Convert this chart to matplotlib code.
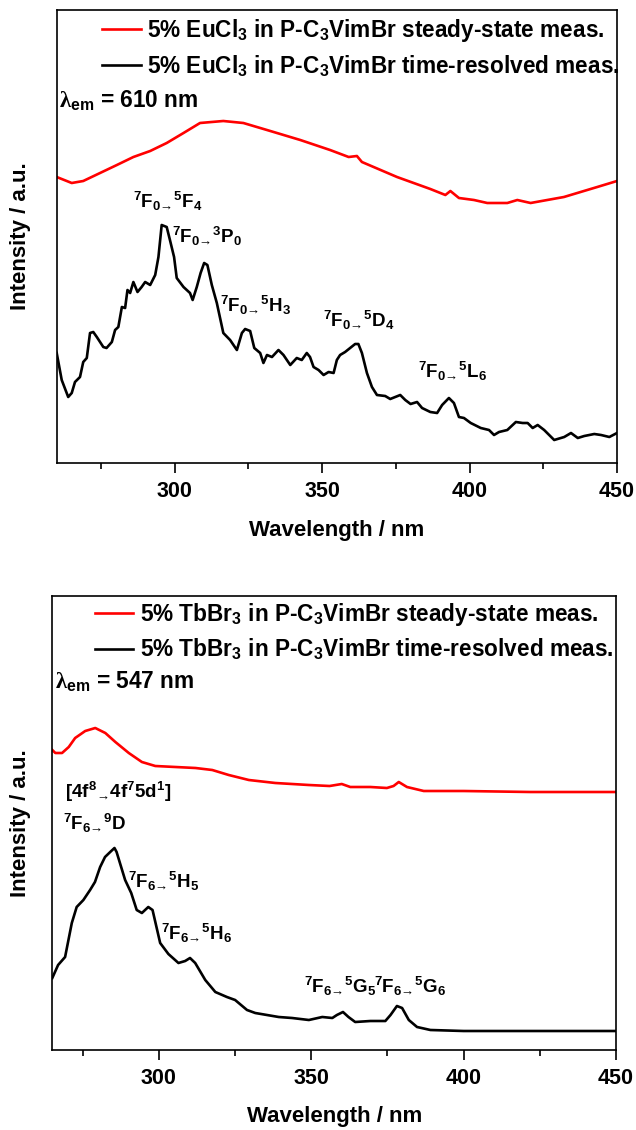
import matplotlib
matplotlib.use("Agg")
import matplotlib.pyplot as plt
from matplotlib.lines import Line2D

plt.rcParams['font.family'] = ['Liberation Sans', 'DejaVu Sans']
plt.rcParams['font.weight'] = 'bold'
plt.rcParams['mathtext.fontset'] = 'custom'
plt.rcParams['mathtext.rm'] = 'Liberation Sans:bold'
plt.rcParams['mathtext.bf'] = 'Liberation Sans:bold'
plt.rcParams['mathtext.it'] = 'Liberation Sans:bold'
plt.rcParams['mathtext.sf'] = 'Liberation Sans'
plt.rcParams['mathtext.tt'] = 'Liberation Serif'
plt.rcParams['mathtext.default'] = 'rm'

# ---------------- data: Eu panel ----------------
eu_red_nm = [260, 265.1, 269.0, 274.7, 280.4, 286.0, 291.7, 297.3, 303.0, 308.6,
             316.5, 323.3, 331.3, 342.6, 352.7, 359.0, 361.8, 363.5, 375.4, 386.7,
             391.8, 393.5, 396.4, 401.5, 406.0, 412.8, 416.2, 420.7, 432.0, 443.3, 450]
eu_red_int = [286, 280, 282, 290, 298, 306, 312, 320, 330, 340,
              342, 340, 333, 323, 313, 306, 307, 301, 286, 274,
              268, 272, 265, 263, 260, 260, 263, 260, 266, 276, 282]

eu_black_nm = [260, 261.7, 263.9, 265.1, 266.2, 267.9, 269.0, 270.2, 271.3, 272.4,
               273.6, 275.8, 276.9, 278.7, 279.8, 280.9, 282.1, 283.2, 284.0, 284.9,
               286.0, 287.4, 288.8, 290.0, 291.7, 293.4, 294.5, 295.6, 297.3, 298.4,
               299.8, 300.7, 303.0, 305.2, 306.1, 307.5, 308.8, 310.0, 311.1, 312.6,
               314.3, 316.5, 318.8, 321.1, 322.8, 323.9, 325.6, 327.0, 329.0, 330.1,
               331.3, 333.0, 335.2, 336.9, 339.2, 341.4, 343.1, 344.8, 345.9, 347.1,
               348.8, 350.5, 352.2, 353.9, 355.0, 356.1, 357.8, 359.5, 361.2, 362.3,
               363.5, 365.2, 366.9, 368.6, 371.4, 373.1, 376.5, 378.2, 380.0, 382.2,
               383.9, 386.7, 389.0, 390.7, 393.0, 394.7, 396.4, 398.1, 400.4, 403.8,
               406.6, 408.3, 410.0, 412.8, 415.7, 418.0, 419.7, 421.4, 423.1, 425.3,
               428.7, 432.1, 434.4, 436.7, 438.9, 442.3, 444.6, 447.4, 450]
eu_black_int = [110, 83, 66, 70, 81, 86, 101, 105, 130, 131,
                126, 116, 115, 121, 133, 136, 156, 155, 173, 170,
                181, 171, 176, 181, 178, 188, 206, 238, 236, 223,
                206, 185, 176, 170, 163, 176, 190, 200, 198, 178,
                160, 130, 123, 113, 130, 134, 132, 115, 110, 100,
                108, 106, 113, 108, 98, 105, 103, 110, 106, 96,
                93, 88, 91, 90, 103, 108, 111, 115, 119, 119,
                110, 90, 76, 68, 67, 64, 68, 63, 59, 61,
                55, 51, 50, 58, 65, 60, 46, 45, 40, 35,
                33, 28, 31, 33, 41, 40, 40, 35, 38, 33,
                23, 26, 30, 25, 27, 29, 28, 26, 30]

# ---------------- data: Tb panel ----------------
tb_red_nm = [265, 266.0, 268.2, 270.4, 272.5, 275.8, 279.1, 282.4, 285.7, 290.1,
             294.4, 298.8, 305.4, 312.0, 317.5, 322.9, 329.5, 338.2, 349.2, 356.0,
             360.0, 362.8, 369.4, 374.8, 377.0, 378.7, 381.4, 386.9, 400.0, 421.9, 450]
tb_red_int = [300, 297, 297, 303, 312, 319, 322, 317, 308, 297,
              288, 284, 283, 282, 280, 275, 270, 267, 265, 264,
              266, 263, 263, 262, 264, 268, 263, 259, 259, 258, 258]

tb_black_nm = [265, 266.9, 269.2, 271.4, 273.0, 275.2, 277.4, 279.0, 280.7, 282.3,
               284.0, 285.4, 286.1, 288.9, 290.9, 292.7, 294.4, 296.5, 297.9, 300.4,
               303.1, 306.4, 308.6, 310.2, 311.9, 315.2, 318.5, 322.3, 325.0, 328.9,
               331.6, 339.3, 343.7, 349.2, 353.6, 356.9, 358.4, 360.4, 362.2, 364.4,
               369.4, 374.3, 376.0, 378.1, 379.8, 382.0, 384.7, 389.1, 400.0, 450]
tb_black_int = [72, 85, 93, 127, 143, 150, 160, 168, 183, 193,
                198, 202, 198, 170, 157, 140, 137, 143, 140, 107,
                96, 87, 89, 92, 87, 70, 58, 53, 50, 40,
                37, 33, 32, 30, 33, 32, 35, 38, 33, 28,
                29, 29, 35, 44, 42, 30, 23, 20, 19, 19]

eu_labels = [r'5% EuCl$_3$ in P-C$_3$VimBr steady-state meas.',
             r'5% EuCl$_3$ in P-C$_3$VimBr time-resolved meas.']
tb_labels = [r'5% TbBr$_3$ in P-C$_3$VimBr steady-state meas.',
             r'5% TbBr$_3$ in P-C$_3$VimBr time-resolved meas.']
eu_lambda = r'$\mathtt{\lambda}_{\mathrm{em}}$ = 610 nm'
tb_lambda = r'$\mathtt{\lambda}_{\mathrm{em}}$ = 547 nm'

eu_ann_text = [r'$^{7}$F$_{0\mathsf{→}}$$^{5}$F$_{4}$', r'$^{7}$F$_{0\mathsf{→}}$$^{3}$P$_{0}$',
               r'$^{7}$F$_{0\mathsf{→}}$$^{5}$H$_{3}$', r'$^{7}$F$_{0\mathsf{→}}$$^{5}$D$_{4}$',
               r'$^{7}$F$_{0\mathsf{→}}$$^{5}$L$_{6}$']
eu_ann_x = [285.9, 299.0, 315.4, 350.3, 382.6]
eu_ann_y = [255, 220, 151, 136, 85]

tb_ann_text = [r'[4f$^{8}$$_{\mathsf{→}}$4f$^{7}$5d$^{1}$]', r'$^{7}$F$_{6\mathsf{→}}$$^{9}$D',
               r'$^{7}$F$_{6\mathsf{→}}$$^{5}$H$_{5}$', r'$^{7}$F$_{6\mathsf{→}}$$^{5}$H$_{6}$',
               r'$^{7}$F$_{6\mathsf{→}}$$^{5}$G$_{5}$', r'$^{7}$F$_{6\mathsf{→}}$$^{5}$G$_{6}$']
tb_ann_x = [269.2, 268.6, 290.0, 300.7, 347.5, 370.6]
tb_ann_y = [252, 220, 162, 110, 57, 57]

fig = plt.figure(figsize=(6.36, 11.3), dpi=100)
ax1 = fig.add_axes([56.7/636, 1-463/1130, 560.3/636, 453/1130])
ax2 = fig.add_axes([52.3/636, 1-1050/1130, 563.7/636, 454/1130])

LW = 1.9
RED = '#ff0000'
LEG_FS = 16.3
ANN_FS = 13.5

def style(ax, xmin, ymax):
    ax.set_xlim(xmin, 450)
    ax.set_ylim(0, ymax)
    ax.set_xticks([300, 350, 400, 450])
    ax.set_xticks([275, 325, 375, 425], minor=True)
    ax.set_yticks([])
    ax.tick_params(axis='x', which='major', direction='out', length=7, width=1.2,
                   labelsize=15.5, pad=6)
    ax.tick_params(axis='x', which='minor', direction='out', length=4.5, width=1.2)
    for lab in ax.get_xticklabels():
        lab.set_fontweight('bold')
    for s in ax.spines.values():
        s.set_linewidth(1.2)
    ax.set_xlabel('Wavelength / nm', fontsize=16, fontweight='bold')
    ax.set_ylabel('Intensity / a.u.', fontsize=16, fontweight='bold')

# Eu panel
ax1.plot(eu_red_nm, eu_red_int, color=RED, lw=LW)
ax1.plot(eu_black_nm, eu_black_int, color='black', lw=LW)
style(ax1, 260, 453)
ax1.xaxis.set_label_coords(0.5, -0.125)
ax1.yaxis.set_label_coords(-0.046, 0.5)
h = [Line2D([], [], color=RED, lw=LW), Line2D([], [], color='black', lw=LW)]
ax1.legend(h, eu_labels, loc='upper left', bbox_to_anchor=(0.081, 0.985),
           frameon=False, fontsize=LEG_FS, handlelength=1.7, handletextpad=0.3,
           labelspacing=0.4, borderaxespad=0, borderpad=0)
ax1.text(0.004, 0.786, eu_lambda, transform=ax1.transAxes, fontsize=LEG_FS,
         fontweight='bold', va='baseline', ha='left')
for t, x, y in zip(eu_ann_text, eu_ann_x, eu_ann_y):
    ax1.text(x, y, t, fontsize=ANN_FS, fontweight='bold', va='baseline', ha='left')

# Tb panel
ax2.plot(tb_red_nm, tb_red_int, color=RED, lw=LW)
ax2.plot(tb_black_nm, tb_black_int, color='black', lw=LW)
style(ax2, 265, 454)
ax2.xaxis.set_label_coords(0.5, -0.123)
ax2.yaxis.set_label_coords(-0.038, 0.5)
ax2.legend(h, tb_labels, loc='upper left', bbox_to_anchor=(0.0757, 0.99),
           frameon=False, fontsize=LEG_FS, handlelength=1.7, handletextpad=0.3,
           labelspacing=0.4, borderaxespad=0, borderpad=0)
ax2.text(0.005, 0.797, tb_lambda, transform=ax2.transAxes, fontsize=LEG_FS,
         fontweight='bold', va='baseline', ha='left')
for t, x, y in zip(tb_ann_text, tb_ann_x, tb_ann_y):
    ax2.text(x, y, t, fontsize=ANN_FS, fontweight='bold', va='baseline', ha='left')

fig.savefig('out.png', dpi=100)
